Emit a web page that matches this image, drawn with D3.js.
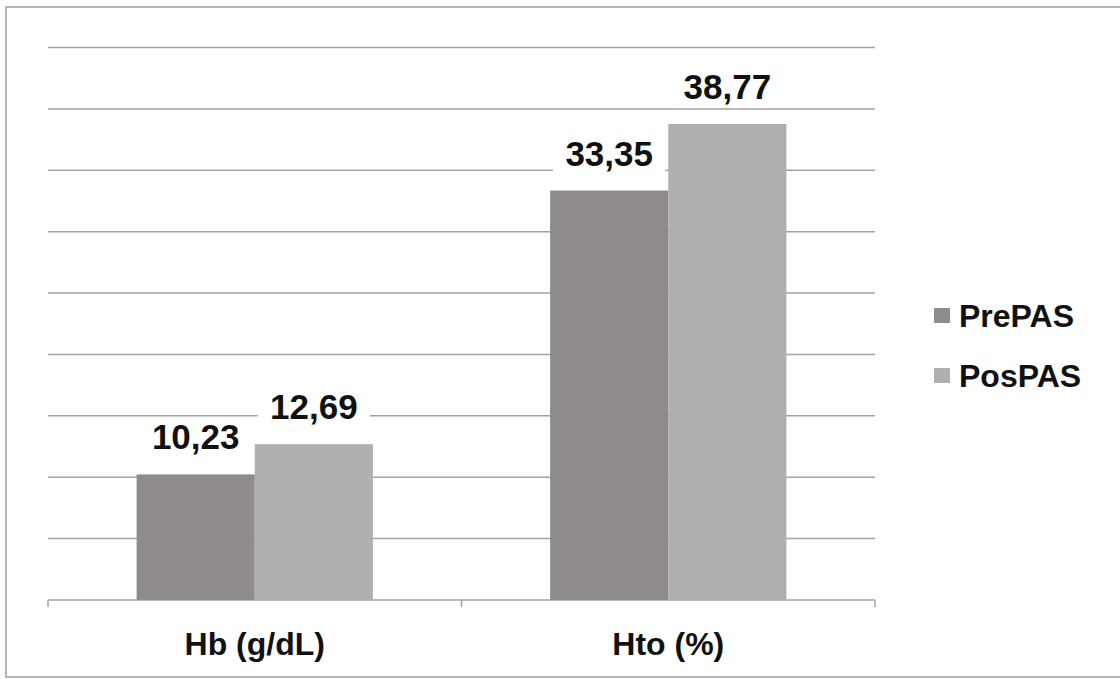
<!DOCTYPE html>
<html>
<head>
<meta charset="utf-8">
<script src="https://cdn.jsdelivr.net/npm/d3@7"></script>
<style>
  html, body { margin: 0; padding: 0; background: #fff; }
  svg { display: block; font-family: "Liberation Sans", Arial, sans-serif; }
</style>
</head>
<body>
<svg id="chart" width="1120" height="679"></svg>
<script>
// ============ Data ============
const categories = ["Hb (g/dL)", "Hto (%)"];
const seriesNames = ["PrePAS", "PosPAS"];
const prePAS = [10.23, 33.35];
const posPAS = [12.69, 38.77];
const yTicks = [0, 5, 10, 15, 20, 25, 30, 35, 40, 45];
const colors = ["#8e8b8a", "#b0afae"];

// ============ Layout ============
const W = 1120, H = 679;
const plot = { left: 48, right: 875, top: 47.5, bottom: 600 };

const svg = d3.select("#chart");

// outer frame
svg.append("rect")
  .attr("x", 6).attr("y", 7)
  .attr("width", W + 10).attr("height", 670)
  .attr("fill", "none")
  .attr("stroke", "#b4b4b4")
  .attr("stroke-width", 2);

const x0 = d3.scaleBand().domain(categories).range([plot.left, plot.right]).paddingInner(0).paddingOuter(0);
const x1 = d3.scaleBand().domain(seriesNames).range([0, x0.bandwidth()]).paddingInner(0).paddingOuter(0.75);
const y = d3.scaleLinear().domain([0, 45]).range([plot.bottom, plot.top]);
const color = d3.scaleOrdinal().domain(seriesNames).range(colors);

// gridlines
svg.append("g")
  .selectAll("line")
  .data(yTicks.slice(1))
  .enter().append("line")
  .attr("x1", plot.left).attr("x2", plot.right)
  .attr("y1", d => y(d)).attr("y2", d => y(d))
  .attr("stroke", "#a3a3a3")
  .attr("stroke-width", 1.5);

// bottom axis with category boundary ticks
const axisG = svg.append("g");
axisG.append("line")
  .attr("x1", plot.left).attr("x2", plot.right)
  .attr("y1", plot.bottom).attr("y2", plot.bottom)
  .attr("stroke", "#a3a3a3").attr("stroke-width", 1.5);
const bounds = categories.map(c => x0(c)).concat([x0(categories[categories.length - 1]) + x0.bandwidth()]);
axisG.selectAll("line.tick")
  .data(bounds)
  .enter().append("line")
  .attr("class", "tick")
  .attr("x1", d => d).attr("x2", d => d)
  .attr("y1", plot.bottom).attr("y2", plot.bottom + 7)
  .attr("stroke", "#a3a3a3").attr("stroke-width", 1.5);

// bars
const rows = categories.map((c, i) => ({ cat: c, values: [
  { name: seriesNames[0], value: prePAS[i] },
  { name: seriesNames[1], value: posPAS[i] }
]}));

const groups = svg.append("g").selectAll("g.grp")
  .data(rows)
  .enter().append("g")
  .attr("class", "grp")
  .attr("transform", d => `translate(${x0(d.cat)},0)`);

groups.selectAll("rect")
  .data(d => d.values)
  .enter().append("rect")
  .attr("x", d => x1(d.name))
  .attr("width", x1.bandwidth())
  .attr("y", d => y(d.value))
  .attr("height", d => y(0) - y(d.value))
  .attr("fill", d => color(d.name));

// value labels with white backing
const fmt = v => v.toFixed(2).replace(".", ",");
const lab = groups.selectAll("g.lab")
  .data(d => d.values)
  .enter().append("g")
  .attr("class", "lab")
  .attr("transform", d => `translate(${x1(d.name) + x1.bandwidth() / 2},${y(d.value) - 25})`);
lab.append("rect")
  .attr("x", -x1.bandwidth() / 2 + 3).attr("y", -32).attr("width", x1.bandwidth() - 6).attr("height", 40)
  .attr("fill", "#fff");
lab.append("text")
  .attr("text-anchor", "middle")
  .attr("font-size", 35)
  .attr("font-weight", "bold")
  .attr("fill", "#111")
  .text(d => fmt(d.value));

// category labels
svg.append("g").selectAll("text")
  .data(categories)
  .enter().append("text")
  .attr("x", d => x0(d) + x0.bandwidth() / 2)
  .attr("y", 655)
  .attr("text-anchor", "middle")
  .attr("font-size", 32)
  .attr("font-weight", "bold")
  .attr("fill", "#111")
  .text(d => d);

// legend
const legend = svg.append("g").selectAll("g")
  .data(seriesNames)
  .enter().append("g")
  .attr("transform", (d, i) => `translate(934,${308 + i * 60})`);
legend.append("rect")
  .attr("width", 16).attr("height", 15)
  .attr("fill", d => color(d));
legend.append("text")
  .attr("x", 25).attr("y", 19)
  .attr("font-size", 32)
  .attr("font-weight", "bold")
  .attr("fill", "#111")
  .text(d => d);
</script>
</body>
</html>
